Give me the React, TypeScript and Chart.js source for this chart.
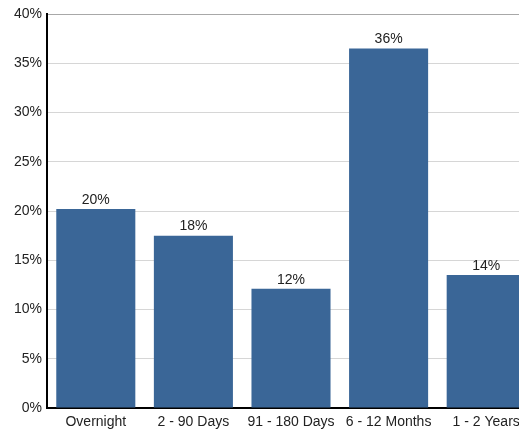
import React, { useEffect, useRef } from "react";
import { Chart, registerables } from "chart.js";

Chart.register(...registerables);

const categories = ["Overnight", "2 - 90 Days", "91 - 180 Days", "6 - 12 Months", "1 - 2 Years"];
const values = [20.2, 17.5, 12.1, 36.5, 13.5];
const valueLabels = ["20%", "18%", "12%", "36%", "14%"];

const FONT = "'Liberation Sans', Arial, sans-serif";

const barLabelPlugin = {
  id: "barLabels",
  afterDatasetsDraw(chart: any) {
    const ctx = chart.ctx;
    const meta = chart.getDatasetMeta(0);
    ctx.save();
    ctx.font = "14px " + FONT;
    ctx.fillStyle = "#222";
    ctx.textAlign = "center";
    ctx.textBaseline = "bottom";
    meta.data.forEach((bar: any, i: number) => {
      ctx.fillText(valueLabels[i], bar.x, bar.y - 2);
    });
    ctx.restore();
  },
};

export default function App() {
  const ref = useRef<HTMLCanvasElement>(null);
  useEffect(() => {
    const chart = new Chart(ref.current!, {
      type: "bar",
      data: {
        labels: categories,
        datasets: [
          {
            data: values,
            backgroundColor: "#3a6697",
            categoryPercentage: 1,
            barPercentage: 0.81,
          },
        ],
      },
      options: {
        animation: false,
        responsive: false,
        maintainAspectRatio: false,
        layout: { padding: { top: 14, left: 0, right: 0, bottom: 0 } },
        plugins: { legend: { display: false }, tooltip: { enabled: false } },
        scales: {
          x: {
            grid: { display: false, drawTicks: false },
            border: { color: "#000", width: 2 },
            ticks: {
              color: "#222",
              font: { family: FONT, size: 14 },
              padding: 6,
              maxRotation: 0,
              autoSkip: false,
            },
            afterFit(scale: any) {
              scale.height = 23;
            },
          },
          y: {
            min: 0,
            max: 40,
            grid: {
              color: (c: any) => (c.tick && c.tick.value === 40 ? "#a8a8a8" : "#d6d6d6"),
              drawTicks: false,
            },
            border: { color: "#000", width: 2 },
            ticks: {
              stepSize: 5,
              color: "#222",
              padding: 5,
              font: { family: FONT, size: 14 },
              callback: (v: any) => v + "%",
            },
            afterFit(scale: any) {
              scale.width = 47;
            },
          },
        },
      },
      plugins: [barLabelPlugin],
    });
    return () => chart.destroy();
  }, []);
  return (
    <div style={{ position: "absolute", left: 0, top: 0, width: 540, height: 431, overflow: "hidden" }}>
      <canvas ref={ref} width={535} height={431} style={{ display: "block" }} />
    </div>
  );
}
